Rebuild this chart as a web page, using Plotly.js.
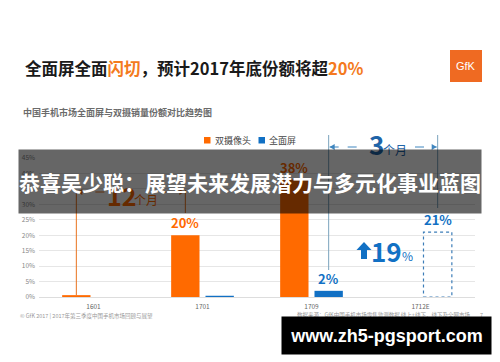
<!DOCTYPE html>
<html><head><meta charset="utf-8">
<script src="https://cdn.plot.ly/plotly-3.0.1.min.js"></script>
<style>html,body{margin:0;padding:0;background:#fff}#chart{width:500px;height:362px}</style>
</head><body><div id="chart"></div>
<script>
// ---- data ----
const categories = ['1601', '1701', '1709', '1712E'];
const dualCamera = [0.6, 20, 38, null];     // 双摄像头 share (%)
const fullScreen = [0, 0.4, 2, 21];         // 全面屏 share (%), 1712E = forecast
const dualLabels = ['', '20%', '38%', ''];
const fullLabels = ['', '', '2%', '21%'];
const seriesNames = ['双摄像头', '全面屏'];
const yTickVals = [0, 5, 10, 15, 20, 25, 30, 35, 40, 45];
const forecastIndex = 3;
const growthText = '19';
const span12 = '12', span3 = '3', monthText = '个月';

// ---- styling / geometry ----
const ORANGE = '#FF6A00', BLUE = '#1170C4', DARKBLUE = '#1F64A8';
const L = 39, R = 475, T = 158, B = 297;
const PW = R - L, PH = B - T, YMAX = 45;
const BARGAP = 0.37, GROUPGAP = 0.174;
const slot = (1 - BARGAP) / 2, off = slot / 2, barW = slot * (1 - GROUPGAP);
const px = X => (X - L) / PW, py = Y => (B - Y) / PH;
const yPix = v => B - v / YMAX * PH;
const xc = (i, side) => i + side * off;
const xPix = (i, side) => L + (xc(i, side) + 0.5) / categories.length * PW;
const FONT = '"Noto Sans CJK SC", "Noto Sans", sans-serif';

const ann = o => Object.assign({showarrow: false, xref: 'paper', yref: 'paper', xanchor: 'center', yanchor: 'middle'}, o);
const pline = (x0, y0, x1, y1, color, dash, w) => ({type: 'line', xref: 'paper', yref: 'paper',
  x0: px(x0), y0: py(y0), x1: px(x1), y1: py(y1), line: {color: color, width: w || 1, dash: dash || 'solid'}});
const ppath = (pts, color) => ({type: 'path', xref: 'paper', yref: 'paper', fillcolor: color, line: {width: 0},
  path: 'M' + pts.map(p => px(p[0]) + ',' + py(p[1])).join(' L') + ' Z'});
const prect = (x0, y0, x1, y1, color) => ({type: 'rect', xref: 'paper', yref: 'paper', x0: px(x0), x1: px(x1),
  y0: py(y1), y1: py(y0), fillcolor: color, line: {width: 0}});

const traces = [
  {type: 'bar', name: seriesNames[0], x: categories, y: dualCamera, marker: {color: ORANGE}, hoverinfo: 'skip'},
  {type: 'bar', name: seriesNames[1], x: categories, y: fullScreen,
   marker: {color: fullScreen.map((v, i) => i === forecastIndex ? 'rgba(0,0,0,0)' : BLUE)}, hoverinfo: 'skip'}
];

const ORL = '#E8731E', BLL = '#7BA3BD';
const x12a = xPix(0, -1), x12b = xPix(1, -1), x3a = xPix(2, 1), x3b = xPix(3, 1);
const shapes = [
  // forecast dashed bar
  {type: 'rect', xref: 'x', yref: 'y', x0: xc(forecastIndex, 1) - barW / 2, x1: xc(forecastIndex, 1) + barW / 2,
   y0: 0, y1: fullScreen[forecastIndex], line: {color: '#3C7DB8', width: 1.2, dash: 'dot'}},
  // 12 months bracket
  pline(x12a, yPix(dualCamera[0]), x12a, 190, ORL),
  pline(x12b, 213, x12b, 190, ORL),
  pline(x12a + 1, 192, 106, 192, ORL, 'dash'),
  pline(160, 192, x12b - 1, 192, ORL, 'dash'),
  ppath([[x12a + 1, 192], [x12a + 6, 189], [x12a + 6, 195]], ORL),
  ppath([[x12b - 1, 192], [x12b - 6, 189], [x12b - 6, 195]], ORL),
  // 3 months bracket
  pline(x3a, 270, x3a, 135, BLL),
  pline(x3b, 208, x3b, 135, BLL),
  pline(x3a + 1, 147, 357, 147, '#3F86BF', 'dash'),
  pline(415, 147, x3b - 1, 147, '#3F86BF', 'dash'),
  ppath([[x3a + 1, 147], [x3a + 6, 144], [x3a + 6, 150]], '#3F86BF'),
  ppath([[x3b - 1, 147], [x3b - 6, 144], [x3b - 6, 150]], '#3F86BF'),
  // up arrow
  ppath([[361, 259], [361, 250], [356.5, 250], [364, 242], [371.5, 250], [367, 250], [367, 259]], BLUE),
  // legend squares
  prect(204, 137, 210.5, 143.5, ORANGE),
  prect(258.5, 137, 265, 143.5, BLUE),
  // GfK logo
  prect(450, 50, 482, 82, '#EF6A22')
];

const annotations = [
  ann({x: px(23), y: py(68), xanchor: 'left', font: {size: 16.5, color: '#1a1a1a'},
       text: '<b>全面屏全面<span style="color:#F47A20">闪切</span>，预计2017年底份额将超<span style="color:#F47A20">20%</span></b>'}),
  ann({x: px(466), y: py(66), text: 'GfK', font: {size: 11, color: '#fff', family: 'Liberation Sans, sans-serif'}}),
  ann({x: px(21), y: py(112), xanchor: 'left', text: '<b>中国手机市场全面屏与双摄销量份额对比趋势图</b>', font: {size: 9, color: '#6b6b6b'}}),
  ann({x: px(213), y: py(140), xanchor: 'left', text: seriesNames[0], font: {size: 9, color: '#444'}}),
  ann({x: px(267), y: py(140), xanchor: 'left', text: seriesNames[1], font: {size: 9, color: '#444'}}),
  // 12 个月
  ann({x: px(122), y: py(195), text: '<b>' + span12 + '</b>', font: {size: 25, color: ORANGE}}),
  ann({x: px(146), y: py(199), text: monthText, font: {size: 12, color: ORANGE}}),
  // 3 个月
  ann({x: px(376.5), y: py(143), text: '<b>' + span3 + '</b>', font: {size: 26, color: DARKBLUE}}),
  ann({x: px(395), y: py(149), text: monthText, font: {size: 12, color: DARKBLUE}}),
  // 19%
  ann({x: px(386), y: py(250), text: '<b>' + growthText + '</b>', font: {size: 26, color: BLUE}}),
  ann({x: px(407), y: py(255), text: '%', font: {size: 12, color: BLUE}}),
  // footers
  ann({x: px(18), y: py(316), xanchor: 'left', text: '© GfK 2017 | 2017年第三季度中国手机市场回顾与展望', font: {size: 5.5, color: '#999'}}),
  ann({x: px(472), y: py(315), xanchor: 'right', text: '数据来源：GfK中国手机市场零售监测数据 线上+线下，线下及全网市场', font: {size: 5.5, color: '#999'}}),
  ann({x: px(481), y: py(315), text: '7', font: {size: 5.5, color: '#999'}})
];
dualLabels.forEach((t, i) => { if (t) annotations.push({x: xc(i, -1), y: dualCamera[i], xref: 'x', yref: 'y', showarrow: false,
  yanchor: 'bottom', yshift: 1, text: '<b>' + t + '</b>', font: {size: 13, color: ORANGE}}); });
fullLabels.forEach((t, i) => { if (t) annotations.push({x: xc(i, 1), y: fullScreen[i], xref: 'x', yref: 'y', showarrow: false,
  yanchor: 'bottom', yshift: 1, text: '<b>' + t + '</b>', font: {size: 13, color: BLUE}}); });
// overlay banner and watermark (drawn last, on top)
annotations.push(ann({x: px(250), y: py(181.5), width: 462, height: 63, borderpad: 0, bgcolor: 'rgba(0,0,0,0.6)',
  text: '<b>恭喜吴少聪：展望未来发展潜力与多元化事业蓝图</b>', font: {size: 21, color: '#fff'}}));
annotations.push(ann({x: px(386.5), y: py(335.5), width: 209, height: 37, borderpad: 0, bgcolor: '#000',
  text: '<b>www.zh5-pgsport.com</b>', font: {size: 18, color: '#fff', family: 'Liberation Sans, Arial, sans-serif'}}));

const layout = {
  width: 500, height: 362,
  margin: {l: L, r: 500 - R, t: T, b: 362 - B, pad: 0},
  paper_bgcolor: '#fff', plot_bgcolor: '#fff',
  font: {family: FONT, color: '#333'},
  showlegend: false,
  barmode: 'group', bargap: BARGAP, bargroupgap: GROUPGAP,
  xaxis: {type: 'category', categoryorder: 'array', categoryarray: categories, showgrid: false, showline: false,
          ticks: '', tickfont: {size: 6.5, color: '#666'}, ticklabelstandoff: 4, fixedrange: true},
  yaxis: {range: [0, YMAX], tickvals: yTickVals, ticktext: yTickVals.map(v => v + '%'), showgrid: true,
          gridcolor: '#E6E6E6', gridwidth: 1, zeroline: true, zerolinecolor: '#DDDDDD', zerolinewidth: 1,
          showline: false, ticks: '', tickfont: {size: 6.5, color: '#888'}, ticklabelstandoff: 3, fixedrange: true},
  shapes: shapes,
  annotations: annotations
};
Plotly.newPlot('chart', traces, layout, {staticPlot: true, displayModeBar: false});
</script>
</body></html>
